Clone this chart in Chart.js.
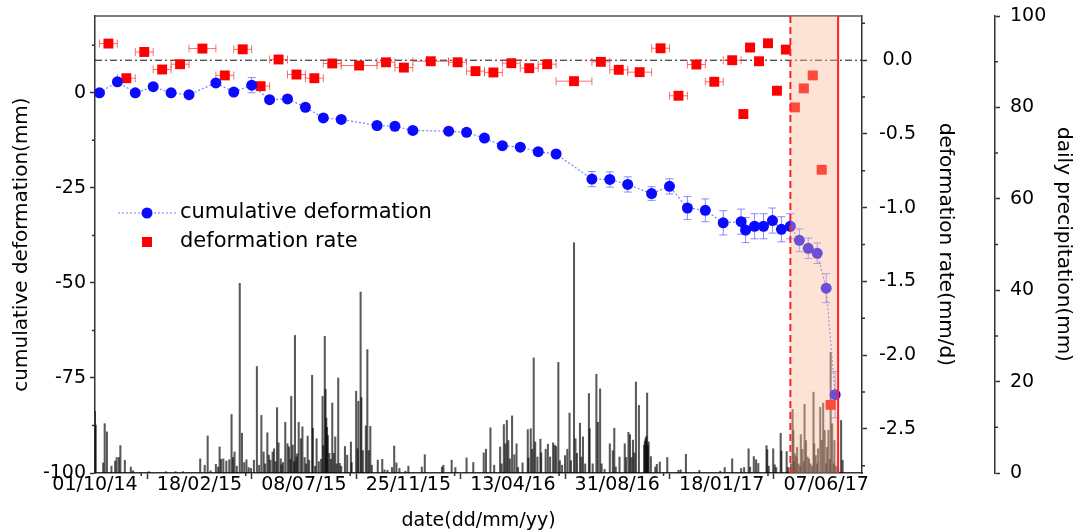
<!DOCTYPE html>
<html>
<head>
<meta charset="utf-8">
<title>Cumulative deformation, deformation rate and daily precipitation</title>
<script src="https://cdn.jsdelivr.net/npm/chart.js@4.4.1/dist/chart.umd.min.js"></script>
<style>
    html, body { margin: 0; padding: 0; background: #fff; }
    #wrap { width: 1077px; height: 532px; }
</style>
</head>
<body>
<div id="wrap"><canvas id="deformationChart"></canvas></div>
<script>
// all dates are day offsets from 01/10/2014
const START = Date.UTC(2014, 9, 1);

// cumulative deformation (mm) with vertical error
const defDay = [6, 30, 54, 78, 102, 126, 162, 186, 210, 234, 258, 282, 306, 330, 378, 402, 426, 474, 498, 522, 546, 570, 594, 618, 666, 690, 714, 746, 770, 794, 818, 842, 866, 872, 884, 896, 908, 920, 932, 944, 956, 968, 980, 992];
const defMm = [0, 2.9, 0, 1.6, 0, -0.5, 2.6, 0.2, 2.0, -1.8, -1.6, -3.8, -6.6, -7.0, -8.6, -8.8, -9.9, -10.1, -10.4, -11.9, -13.9, -14.3, -15.5, -16.1, -22.7, -22.8, -24.1, -26.5, -24.6, -30.3, -30.9, -34.2, -33.9, -36.1, -35.1, -35.1, -33.6, -35.9, -35.1, -38.8, -40.9, -42.2, -51.4, -79.4];
const defErr = [0.6, 0.6, 0.6, 0.6, 0.6, 0.6, 0.8, 0.8, 2.0, 0.8, 0.8, 0.8, 0.8, 0.8, 0.8, 0.8, 0.8, 0.8, 0.8, 0.8, 0.8, 0.8, 0.8, 0.8, 2.0, 2.0, 2.0, 1.8, 2.0, 3.0, 3.0, 3.2, 3.3, 3.3, 3.3, 3.3, 3.3, 3.3, 3.3, 3.0, 2.7, 2.7, 3.8, 6.1];

// deformation rate (mm/d), horizontal bar = half of the interval in days
const rateDay = [18, 42, 66, 90, 114, 144, 174, 198, 222, 246, 270, 294, 318, 354, 390, 414, 450, 486, 510, 534, 558, 582, 606, 642, 678, 702, 730, 758, 782, 806, 830, 854, 869, 878, 890, 902, 914, 926, 938, 950, 962, 974, 986];
const rateVal = [0.113, -0.122, 0.056, -0.063, -0.027, 0.079, -0.103, 0.074, -0.176, 0.005, -0.097, -0.122, -0.022, -0.036, -0.014, -0.050, -0.007, -0.014, -0.074, -0.083, -0.020, -0.054, -0.027, -0.142, -0.011, -0.065, -0.081, 0.081, -0.241, -0.029, -0.146, 0.000, -0.365, 0.086, -0.007, 0.115, -0.207, 0.072, -0.320, -0.191, -0.103, -0.743, -2.338];
const rateSpan = [12, 12, 12, 12, 12, 18, 12, 12, 12, 12, 12, 12, 12, 24, 12, 12, 24, 12, 12, 12, 12, 12, 12, 24, 12, 12, 16, 12, 12, 12, 12, 12, 3, 6, 6, 6, 6, 6, 6, 6, 6, 6, 6];

// daily precipitation (mm)
const precipDay = [0, 1, 11, 13, 16, 22, 27, 29, 32, 34, 40, 48, 51, 72, 95, 108, 118, 141, 147, 151, 155, 162, 165, 167, 169, 172, 176, 180, 183, 185, 187, 190, 194, 197, 200, 203, 206, 209, 213, 217, 220, 223, 226, 228, 231, 233, 235, 238, 240, 242, 244, 246, 249, 250, 252, 255, 258, 260, 262, 263, 265, 267, 268, 270, 271, 273, 276, 278, 281, 283, 285, 287, 291, 292, 295, 297, 300, 303, 305, 306, 308, 309, 310, 311, 312, 314, 316, 318, 320, 322, 324, 326, 328, 330, 335, 338, 343, 344, 350, 352, 353, 356, 357, 359, 363, 365, 367, 369, 371, 379, 385, 388, 392, 398, 401, 404, 408, 416, 420, 438, 442, 465, 467, 478, 483, 498, 507, 521, 524, 530, 535, 543, 545, 548, 550, 552, 554, 556, 559, 562, 565, 567, 573, 580, 581, 584, 586, 588, 590, 593, 597, 598, 604, 607, 610, 614, 616, 618, 621, 623, 626, 630, 633, 636, 638, 642, 644, 646, 650, 652, 654, 657, 662, 663, 667, 672, 674, 677, 679, 683, 690, 694, 696, 698, 703, 710, 712, 715, 717, 719, 721, 723, 725, 729, 736, 737, 738, 739, 740, 741, 742, 745, 751, 753, 757, 767, 782, 785, 792, 810, 838, 844, 854, 866, 870, 876, 878, 883, 886, 889, 900, 901, 903, 909, 911, 913, 919, 920, 927, 929, 933, 935, 936, 937, 938, 940, 941, 943, 945, 946, 948, 950, 951, 953, 955, 957, 959, 961, 963, 964, 966, 968, 969, 972, 974, 976, 978, 980, 981, 983, 985, 986, 988, 990, 991, 993, 996, 1000, 1002];
const precipMm = [13.5, 10.5, 2.2, 10.8, 9.0, 1.5, 2.6, 3.4, 3.4, 6.0, 2.8, 1.3, 0.5, 0.3, 0.3, 0.3, 0.3, 3.1, 1.7, 8.1, 0.5, 1.9, 1.3, 5.7, 3.0, 3.1, 2.6, 2.9, 12.8, 3.4, 4.6, 1.5, 41.5, 8.7, 2.3, 2.9, 1.2, 1.0, 2.8, 23.3, 1.7, 12.6, 4.6, 2.0, 8.8, 3.9, 2.8, 4.6, 5.3, 2.5, 14.3, 6.6, 3.1, 1.8, 2.3, 11.1, 6.4, 5.7, 3.0, 16.8, 6.1, 2.5, 30.1, 3.5, 4.2, 11.1, 7.5, 10.1, 3.4, 2.0, 8.1, 2.8, 21.4, 9.8, 1.5, 7.5, 2.5, 3.0, 16.8, 6.0, 29.9, 18.3, 12.0, 10.0, 8.2, 4.3, 3.0, 15.3, 4.3, 7.9, 2.0, 20.8, 2.1, 1.5, 5.8, 3.9, 6.8, 2.3, 17.9, 5.3, 15.7, 39.6, 16.5, 4.9, 10.3, 27.0, 4.9, 10.2, 1.7, 2.8, 3.0, 0.7, 0.6, 1.2, 5.9, 2.2, 1.0, 0.4, 1.5, 1.3, 4.0, 1.3, 1.7, 2.8, 1.2, 3.3, 2.3, 4.4, 5.2, 9.9, 1.7, 5.7, 2.0, 10.6, 6.4, 11.5, 7.1, 3.1, 12.5, 4.0, 6.4, 1.2, 2.2, 9.5, 3.3, 9.7, 5.2, 25.2, 6.8, 3.5, 7.4, 4.4, 5.2, 6.3, 3.5, 6.6, 6.1, 5.8, 24.2, 2.7, 1.7, 3.8, 5.2, 13.1, 2.7, 50.4, 7.5, 4.3, 10.9, 3.5, 7.9, 2.0, 17.4, 9.7, 2.0, 21.6, 11.1, 18.4, 2.0, 0.8, 6.4, 4.9, 9.8, 1.3, 3.5, 6.4, 3.4, 8.9, 8.4, 3.4, 7.2, 4.4, 19.9, 14.8, 6.1, 7.0, 7.6, 8.0, 17.5, 6.0, 6.8, 3.6, 1.3, 1.9, 2.4, 3.4, 0.6, 0.7, 4.1, 0.6, 0.4, 1.2, 3.1, 1.0, 1.2, 5.3, 1.3, 3.6, 2.9, 2.1, 6.0, 5.1, 1.5, 5.3, 1.8, 1.2, 8.7, 4.8, 4.7, 1.2, 2.0, 13.9, 9.3, 2.5, 4.2, 3.5, 5.6, 2.0, 1.5, 8.4, 5.2, 2.5, 15.0, 7.1, 3.5, 3.1, 2.0, 1.5, 17.7, 6.4, 3.8, 2.0, 5.3, 14.4, 7.1, 15.3, 9.3, 2.0, 5.6, 9.3, 3.0, 26.4, 10.8, 2.0, 7.1, 1.5, 1.0, 11.5, 2.8];

// accelerating stage and failure
const accelStart = 932;
const failureDay = 996;

function dayLabel(d) {
    const dt = new Date(START + d * 86400000);
    const dd = String(dt.getUTCDate()).padStart(2, "0");
    const mm = String(dt.getUTCMonth() + 1).padStart(2, "0");
    const yy = String(dt.getUTCFullYear()).slice(2);
    return dd + "/" + mm + "/" + yy;
}

Chart.defaults.font.family = "'DejaVu Sans', sans-serif";
Chart.defaults.font.size = 19;
Chart.defaults.color = "#000";

const AXIS = "#333";

// fixed axis sizes so the plot box lands where the figure has it
function fixWidth(w) {
    return s => { s.width = w; s.paddingTop = 0; s.paddingBottom = 0; };
}

// frame top line and the dash-dot zero-rate line
const backdrop = {
    id: "backdrop",
    beforeDatasetsDraw(chart) {
        const { ctx, chartArea: a, scales } = chart;
        ctx.save();
        ctx.strokeStyle = "#555";
        ctx.lineWidth = 1.5;
        ctx.beginPath();
        ctx.moveTo(a.left, a.top);
        ctx.lineTo(a.right, a.top);
        ctx.stroke();
        const y0 = scales.yR.getPixelForValue(0);
        ctx.strokeStyle = "#111";
        ctx.lineWidth = 1;
        ctx.setLineDash([7, 3, 2, 3]);
        ctx.beginPath();
        ctx.moveTo(a.left, y0);
        ctx.lineTo(a.right, y0);
        ctx.stroke();
        ctx.restore();
    }
};

// error bars, drawn over the rain bars but under the markers
const errorBars = {
    id: "errorBars",
    afterDatasetDraw(chart, args) {
        if (args.index !== 2) return;
        const { ctx, scales: { x, y, yR } } = chart;
        ctx.save();
        ctx.lineWidth = 1;
        ctx.strokeStyle = "rgba(90, 90, 255, 0.7)";
        ctx.beginPath();
        defDay.forEach((d, i) => {
            const px = x.getPixelForValue(d);
            const top = y.getPixelForValue(defMm[i] + defErr[i]);
            const bot = y.getPixelForValue(defMm[i] - defErr[i]);
            ctx.moveTo(px, top); ctx.lineTo(px, bot);
            ctx.moveTo(px - 4, top); ctx.lineTo(px + 4, top);
            ctx.moveTo(px - 4, bot); ctx.lineTo(px + 4, bot);
        });
        ctx.stroke();
        ctx.strokeStyle = "rgba(255, 60, 60, 0.75)";
        ctx.beginPath();
        rateDay.forEach((d, i) => {
            const py = yR.getPixelForValue(rateVal[i]);
            const l = x.getPixelForValue(d - rateSpan[i]);
            const r = x.getPixelForValue(d + rateSpan[i]);
            ctx.moveTo(l, py); ctx.lineTo(r, py);
            ctx.moveTo(l, py - 4); ctx.lineTo(l, py + 4);
            ctx.moveTo(r, py - 4); ctx.lineTo(r, py + 4);
        });
        ctx.stroke();
        ctx.restore();
    }
};

// shaded accelerating stage with its boundary lines
const stageShade = {
    id: "stageShade",
    afterDatasetsDraw(chart) {
        const { ctx, chartArea: a, scales: { x } } = chart;
        const x1 = x.getPixelForValue(accelStart);
        const x2 = x.getPixelForValue(failureDay);
        ctx.save();
        ctx.fillStyle = "rgba(250, 185, 150, 0.4)";
        ctx.fillRect(x1, a.top, x2 - x1, a.bottom - a.top);
        ctx.strokeStyle = "#ff2020";
        ctx.lineWidth = 2;
        ctx.setLineDash([7, 4]);
        ctx.beginPath();
        ctx.moveTo(x1, a.top); ctx.lineTo(x1, a.bottom);
        ctx.stroke();
        ctx.setLineDash([]);
        ctx.beginPath();
        ctx.moveTo(x2, a.top); ctx.lineTo(x2, a.bottom);
        ctx.stroke();
        ctx.restore();
    }
};

// short unlabelled ticks
const minorTicks = {
    id: "minorTicks",
    afterDraw(chart) {
        const { ctx, chartArea: a, scales } = chart;
        ctx.save();
        ctx.strokeStyle = AXIS;
        ctx.lineWidth = 1.5;
        ctx.beginPath();
        scales.x.ticks.forEach(t => {
            const v = t.value + 62;
            if (v > scales.x.max) return;
            const px = scales.x.getPixelForValue(v);
            ctx.moveTo(px, a.bottom); ctx.lineTo(px, a.bottom + 3);
        });
        [["y", 12.5, -1], ["yR", 0.25, 1], ["yP", 10, 1]].forEach(([id, step, dir]) => {
            const s = scales[id];
            const edge = dir < 0 ? s.right : s.left;
            for (let k = Math.ceil(s.min / step); k * step <= s.max + 1e-9; k++) {
                if (k % 2 === 0) continue;
                const py = s.getPixelForValue(k * step);
                ctx.moveTo(edge, py); ctx.lineTo(edge + dir * 3, py);
            }
        });
        ctx.stroke();
        ctx.restore();
    }
};

// legend sitting inside the plot
const insetLegend = {
    id: "insetLegend",
    afterDraw(chart) {
        const { ctx, chartArea: a } = chart;
        const [blue, red] = chart.data.datasets;
        const cx = a.left + 52;
        const row1 = a.top + 197, row2 = a.top + 226;
        ctx.save();
        ctx.strokeStyle = blue.borderColor;
        ctx.lineWidth = 1.2;
        ctx.setLineDash([2, 2]);
        ctx.beginPath();
        ctx.moveTo(cx - 29, row1); ctx.lineTo(cx + 29, row1);
        ctx.stroke();
        ctx.setLineDash([]);
        ctx.fillStyle = blue.pointBackgroundColor;
        ctx.beginPath();
        ctx.arc(cx, row1, 5.5, 0, Math.PI * 2);
        ctx.fill();
        ctx.fillStyle = red.pointBackgroundColor;
        ctx.fillRect(cx - 5, row2 - 5, 10, 10);
        ctx.fillStyle = "#000";
        ctx.font = "21px 'DejaVu Sans', sans-serif";
        ctx.textBaseline = "middle";
        ctx.fillText(blue.label, cx + 33, row1);
        ctx.fillText(red.label, cx + 33, row2);
        ctx.restore();
    }
};

const tickGrid = { drawOnChartArea: false, tickLength: 5, tickColor: AXIS, tickWidth: 1.5 };
const axisBorder = { color: AXIS, width: 1.5 };

const ctx = document.getElementById("deformationChart").getContext("2d");
new Chart(ctx, {
    data: {
        datasets: [{
            type: "line",
            label: "cumulative deformation",
            yAxisID: "y",
            data: defDay.map((d, i) => ({ x: d, y: defMm[i] })),
            borderColor: "rgba(80, 80, 255, 0.75)",
            borderWidth: 1.2,
            borderDash: [2, 2],
            pointRadius: 5.5,
            pointBackgroundColor: "#0a0aff",
            pointBorderWidth: 0,
            tension: 0
        }, {
            type: "line",
            label: "deformation rate",
            yAxisID: "yR",
            data: rateDay.map((d, i) => ({ x: d, y: rateVal[i] })),
            showLine: false,
            pointStyle: "rect",
            pointRadius: 7,
            pointBackgroundColor: "#ff0000",
            pointBorderWidth: 0
        }, {
            type: "bar",
            label: "daily precipitation",
            yAxisID: "yP",
            data: precipDay.map((d, i) => ({ x: d, y: precipMm[i] })),
            backgroundColor: "rgba(0, 0, 0, 0.65)",
            barThickness: 1.4
        }]
    },
    options: {
        responsive: true,
        maintainAspectRatio: false,
        animation: false,
        layout: { padding: { top: 16, left: 0, right: 0, bottom: 0 } },
        plugins: {
            legend: { display: false },
            tooltip: { enabled: false }
        },
        scales: {
            x: {
                type: "linear",
                min: 0,
                max: 1028,
                offset: false,
                afterFit: s => { s.height = 59; s.paddingLeft = 0; s.paddingRight = 0; },
                ticks: {
                    stepSize: 140,
                    includeBounds: false,
                    autoSkip: false,
                    maxRotation: 0,
                    padding: -3,
                    font: { lineHeight: 1 },
                    callback: v => dayLabel(v)
                },
                grid: { ...tickGrid, tickLength: 6 },
                border: axisBorder,
                title: { display: true, text: "date(dd/mm/yy)", font: { size: 19 }, padding: { top: 0, bottom: 0 } }
            },
            y: {
                position: "left",
                min: -100,
                max: 20.2,
                afterFit: fixWidth(95),
                ticks: { stepSize: 25, includeBounds: false, padding: 4 },
                grid: tickGrid,
                border: axisBorder,
                title: { display: true, text: "cumulative deformation(mm)", font: { size: 20 }, padding: { top: 10, bottom: 0 } }
            },
            yR: {
                position: "right",
                min: -2.8,
                max: 0.3,
                afterFit: fixWidth(133),
                ticks: { stepSize: 0.5, includeBounds: false, crossAlign: "center", padding: 12, callback: v => v.toFixed(1) },
                grid: tickGrid,
                border: axisBorder,
                title: { display: true, text: "deformation rate(mm/d)", font: { size: 20 }, padding: { top: 38, bottom: 0 } }
            },
            yP: {
                position: "right",
                min: 0,
                max: 100,
                afterFit: fixWidth(82),
                ticks: { stepSize: 20, padding: 10 },
                grid: tickGrid,
                border: axisBorder,
                title: { display: true, text: "daily precipitation(mm)", font: { size: 20 }, padding: { top: 2, bottom: 0 } }
            }
        }
    },
    plugins: [backdrop, errorBars, stageShade, minorTicks, insetLegend]
});
</script>
</body>
</html>
